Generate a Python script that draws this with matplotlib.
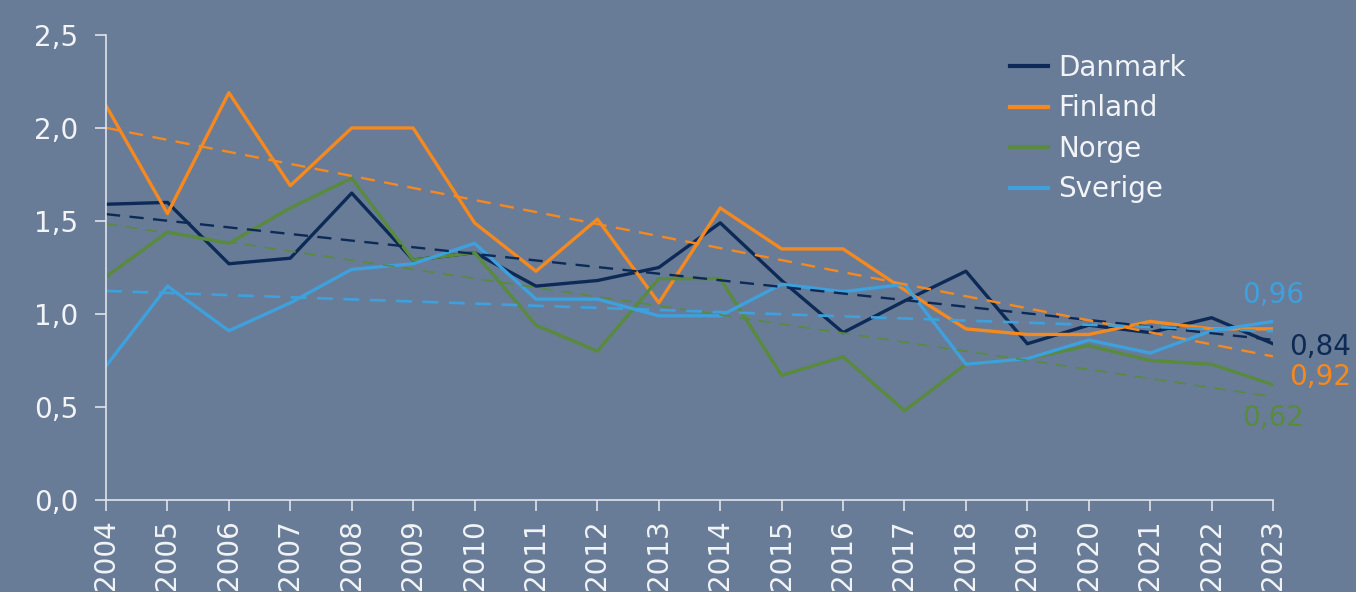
import numpy as np
import matplotlib
matplotlib.use("Agg")
import matplotlib.pyplot as plt

# ---------------- data ----------------
years = list(range(2004, 2024))
danmark = [1.59, 1.60, 1.27, 1.30, 1.65, 1.29, 1.33, 1.15, 1.18, 1.25,
           1.49, 1.18, 0.90, 1.07, 1.23, 0.84, 0.94, 0.90, 0.98, 0.84]
finland = [2.12, 1.54, 2.19, 1.69, 2.00, 2.00, 1.49, 1.23, 1.51, 1.06,
           1.57, 1.35, 1.35, 1.13, 0.92, 0.89, 0.89, 0.96, 0.92, 0.92]
norge = [1.20, 1.44, 1.38, 1.57, 1.73, 1.29, 1.33, 0.94, 0.80, 1.19,
         1.19, 0.67, 0.77, 0.48, 0.73, 0.76, 0.83, 0.75, 0.73, 0.62]
sverige = [0.72, 1.15, 0.91, 1.06, 1.24, 1.27, 1.38, 1.08, 1.08, 0.99,
           0.99, 1.16, 1.12, 1.16, 0.73, 0.76, 0.86, 0.79, 0.91, 0.96]
names = ["Danmark", "Finland", "Norge", "Sverige"]
end_labels = ["0,84", "0,92", "0,62", "0,96"]

# ---------------- style ----------------
bg = "#687c97"
fg = "#f2f4f7"
colors = ["#0c2a55", "#f5891f", "#598a3d", "#3ea0dc"]
# label positions in figure pixels (left edge, vertical centre)
label_pos = [(1289, 347), (1289, 377), (1242, 418), (1242, 295)]

fig = plt.figure(figsize=(13.56, 5.92), dpi=100, facecolor=bg)
ax = fig.add_axes([0.0782, 0.1554, 0.8606, 0.7855], facecolor=bg)

series = [danmark, finland, norge, sverige]
x = np.array(years, dtype=float)
for name, vals, c in zip(names, series, colors):
    ax.plot(x, vals, color=c, lw=2.4, label=name)

# trend lines
dash_w = [1.7, 1.7, 1.2, 1.9]
dash_p = [(0, (6, 4)), (0, (6, 4)), (0, (7, 5)), (0, (6, 4))]
for vals, c, w, p in zip(series, colors, dash_w, dash_p):
    k, m = np.polyfit(x, vals, 1)
    ax.plot(x, k * x + m, color=c, lw=w, ls=p)

# end labels
for lab, c, (px, py) in zip(end_labels, colors, label_pos):
    fig.text(px / 1356, 1 - py / 592, lab, color=c, fontsize=20,
             ha="left", va="center")

ax.set_xlim(2004, 2023)
ax.set_ylim(0, 2.5)
ax.set_xticks(years)
ax.set_xticklabels([str(y) for y in years], rotation=90)
ax.set_yticks([0, 0.5, 1.0, 1.5, 2.0, 2.5])
ax.set_yticklabels(["0,0", "0,5", "1,0", "1,5", "2,0", "2,5"])
ax.tick_params(axis="both", colors="#dfe4ea", labelcolor=fg, labelsize=20,
               length=8, width=1.2)
ax.tick_params(axis="y", pad=12)
ax.tick_params(axis="x", pad=6)

for s in ["top", "right"]:
    ax.spines[s].set_visible(False)
for s in ["left", "bottom"]:
    ax.spines[s].set_color("#dfe4ea")
    ax.spines[s].set_linewidth(1.2)

leg = ax.legend(loc="upper left", bbox_to_anchor=(0.76, 0.995), frameon=False,
                fontsize=20, handlelength=1.4, handletextpad=0.35,
                labelspacing=0.45, labelcolor=fg, borderaxespad=0.2)
for h in leg.get_lines():
    h.set_linewidth(3)

fig.savefig("out.png", dpi=100, facecolor=bg)
